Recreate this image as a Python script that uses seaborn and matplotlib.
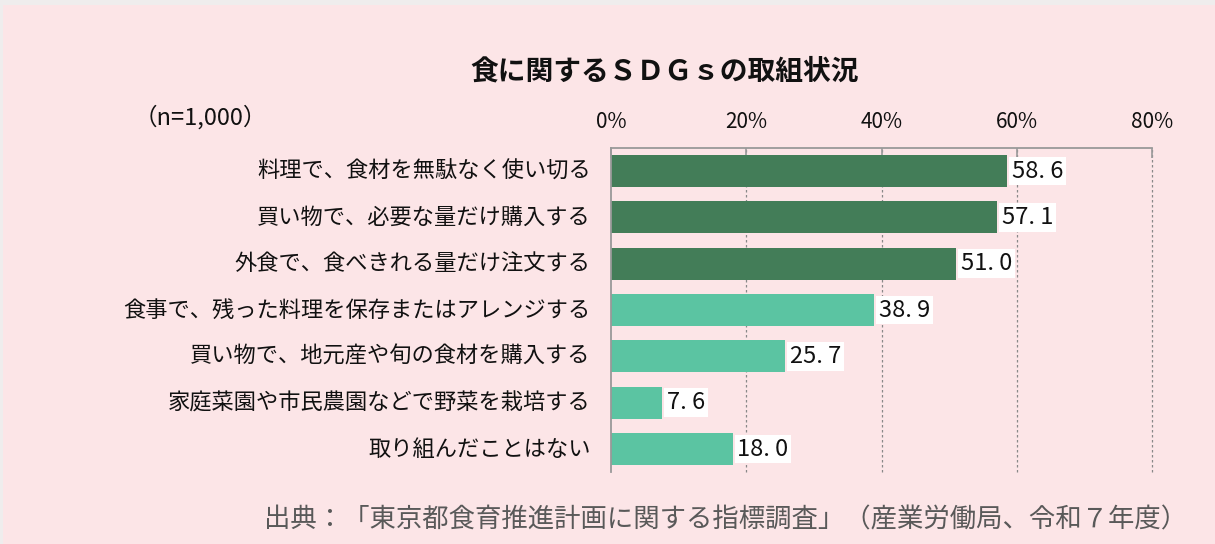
import matplotlib
matplotlib.use("Agg")
import matplotlib.pyplot as plt
import seaborn as sns
import pandas as pd
from matplotlib.patches import Rectangle
from matplotlib.ticker import FuncFormatter, FixedLocator

# data
items = [
    "料理で、食材を無駄なく使い切る",
    "買い物で、必要な量だけ購入する",
    "外食で、食べきれる量だけ注文する",
    "食事で、残った料理を保存またはアレンジする",
    "買い物で、地元産や旬の食材を購入する",
    "家庭菜園や市民農園などで野菜を栽培する",
    "取り組んだことはない",
]
values = [58.6, 57.1, 51.0, 38.9, 25.7, 7.6, 18.0]
groups = ["top", "top", "top", "other", "other", "other", "other"]

BG = "#FCE5E7"
DARK = "#437D58"
LIGHT = "#5BC4A2"

sns.set_theme(style="white")
plt.rcParams["font.family"] = ["Noto Sans CJK JP", "DejaVu Sans"]

df = pd.DataFrame({"item": items, "value": values, "group": groups})

fig = plt.figure(figsize=(12.15, 5.44), dpi=100, facecolor="#EFEDED")
# pink panel with a thin grey strip on top/left
fig.patches.append(Rectangle((3 / 1215, 0), 1, 1 - 5 / 544, transform=fig.transFigure,
                             fc=BG, ec="none", zorder=-10))

ax = fig.add_axes([0.5029, 0.132, 0.4453, 0.596])
ax.set_facecolor(BG)

sns.barplot(data=df, x="value", y="item", hue="group", order=items,
            palette={"top": DARK, "other": LIGHT}, dodge=False,
            width=0.69, legend=False, ax=ax, saturation=1, linewidth=0)

ax.set_xlim(0, 80)
ax.set_ylim(len(items) - 0.5, -0.5)
ax.xaxis.tick_top()
ax.set_xticks([0, 20, 40, 60, 80])
ax.xaxis.set_major_formatter(FuncFormatter(lambda v, p: f"{int(v)}%"))
ax.tick_params(axis="x", direction="in", length=7, color="#999999", width=1.2,
               labelsize=15, pad=11, labelcolor="#111111")
ax.set_xlabel("")
ax.set_ylabel("")

# category boundary ticks on left spine
ax.yaxis.set_major_locator(FixedLocator([i - 0.5 for i in range(len(items) + 1)]))
ax.yaxis.set_major_formatter(FuncFormatter(lambda v, p: ""))
ax.tick_params(axis="y", direction="in", length=6, color="#999999", width=1.2)
for i, lab in enumerate(items):
    ax.text(-3.0, i, lab, ha="right", va="center", fontsize=16, color="#111111")

for x in [20, 40, 60, 80]:
    ax.axvline(x, color="#888888", lw=0.9, ls=(0, (2, 2)), zorder=0, clip_on=False)

for s in ["right", "bottom"]:
    ax.spines[s].set_visible(False)
for s in ["top", "left"]:
    ax.spines[s].set_visible(True)
    ax.spines[s].set_color("#999999")
    ax.spines[s].set_linewidth(1.3)

for i, v in enumerate(values):
    ax.text(v + 0.7, i, f"{v:.1f}".replace(".", ". "), ha="left", va="center",
            fontsize=17, color="#111111",
            bbox=dict(boxstyle="square,pad=0.12", fc="white", ec="none"))

fig.text(0.547, 0.868, "食に関するＳＤＧｓの取組状況", ha="center", va="center",
         fontsize=20, fontweight="bold", color="#111111")
fig.text(0.110, 0.785, "（n=1,000）", ha="left", va="center", fontsize=17, color="#111111")
fig.text(0.977, 0.044, "出典：「東京都食育推進計画に関する指標調査」（産業労働局、令和７年度）",
         ha="right", va="center", fontsize=19, color="#595959")

fig.savefig("out.png", dpi=100, facecolor=fig.get_facecolor())
